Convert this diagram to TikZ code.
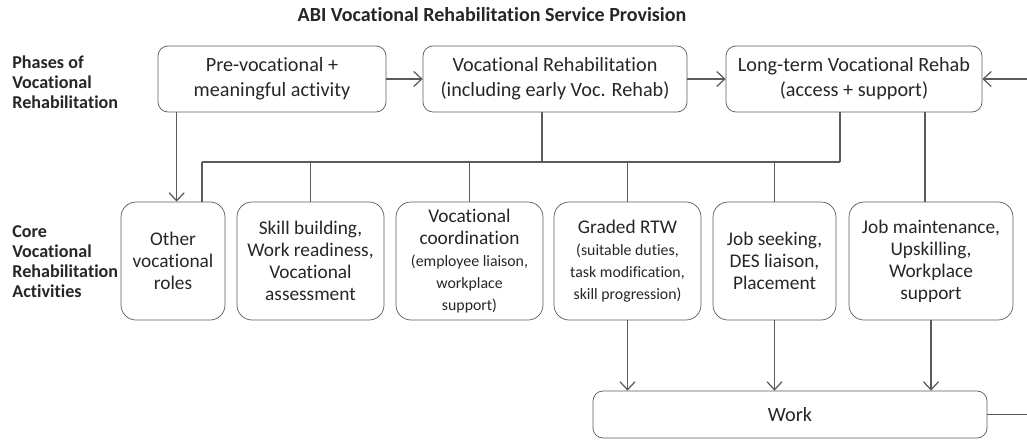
\documentclass[tikz,border=0pt]{standalone}
\usepackage{fontspec}
\setmainfont{Carlito}[Ligatures=NoCommon]
\usetikzlibrary{arrows.meta}
\definecolor{edgegray}{HTML}{5A5A5A}
\definecolor{inkgray}{HTML}{262626}
\begin{document}
\begin{tikzpicture}[
    >={Straight Barb[length=1.6mm, width=3mm]},
    phase/.style={draw=edgegray, rounded corners=0.2cm, align=center, text=inkgray,
      minimum height=1.32cm, inner sep=0pt, font=\fontsize{11.5}{14.2}\selectfont},
    activity/.style={draw=edgegray, rounded corners=0.3cm, align=center, text=inkgray,
      minimum height=2.36cm, inner sep=0pt, font=\fontsize{11}{12.5}\selectfont},
    rowlabel/.style={anchor=west, align=left, text=inkgray, inner sep=0pt,
      font=\bfseries\fontsize{10.3}{11.4}\selectfont},
    small/.style={font=\fontsize{9.5}{10.8}\selectfont},
    link/.style={draw=edgegray, line width=0.7pt}
  ]
  \useasboundingbox (0,0) rectangle (20.54,8.8);
  \node[text=inkgray, font=\bfseries\fontsize{11.4}{13}\selectfont] (title) at (9.84,8.5)
    {ABI Vocational Rehabilitation Service Provision};
  \node[rowlabel] (phaseslabel) at (0.24,7.16) {Phases of\\Vocational\\Rehabilitation};
  \node[rowlabel] (corelabel) at (0.24,3.56) {Core\\Vocational\\Rehabilitation\\Activities};

  \node[phase, minimum width=4.56cm] (pre) at (5.44,7.22) {Pre-vocational +\\meaningful activity};
  \node[phase, minimum width=5.28cm] (voc) at (11.1,7.22) {Vocational Rehabilitation\\(including early Voc. Rehab)};
  \node[phase, minimum width=5.12cm] (long) at (17.08,7.22) {Long-term Vocational Rehab\\(access + support)};

  \node[activity, minimum width=2.08cm] (other) at (3.46,3.58) {Other\\vocational\\roles};
  \node[activity, minimum width=2.94cm] (skill) at (6.21,3.58) {Skill building,\\Work readiness,\\Vocational\\assessment};
  \node[activity, minimum width=2.94cm] (coord) at (9.39,3.58)
    {Vocational\\coordination\\{\small(employee liaison,}\\{\small workplace}\\{\small support)}};
  \node[activity, minimum width=2.94cm] (graded) at (12.55,3.58)
    {Graded RTW\\{\small(suitable duties,}\\{\small task modification,}\\{\small skill progression)}};
  \node[activity, minimum width=2.46cm] (seek) at (15.49,3.58) {Job seeking,\\DES liaison,\\Placement};
  \node[activity, minimum width=3.28cm] (maint) at (18.62,3.58) {Job maintenance,\\Upskilling,\\Workplace\\support};

  \node[phase, minimum width=7.88cm, minimum height=0.94cm] (work) at (15.8,0.51) {Work};

  \coordinate (inR) at (20.54,7.22);
  \coordinate (outR) at (20.54,0.51);
  \coordinate (busL) at (4.04,5.56);
  \coordinate (busR) at (16.8,5.56);

  \begin{scope}[link, ->]
    \draw (pre) to (voc);
    \draw (voc) to (long);
    \draw (inR) to (long);
    \draw ([xshift=0.38cm]pre.south west) to ([xshift=0.38cm]pre.south west |- other.north);
    \draw (graded.south) to (graded.south |- work.north);
    \draw (seek.south) to (seek.south |- work.north);
    \draw (maint.south) to (maint.south |- work.north);
  \end{scope}
  \begin{scope}[link, -]
    \draw (work) to (outR);
    \draw ([xshift=-0.26cm]voc.south) to ([xshift=-0.26cm]voc.south |- busL);
    \draw ([xshift=-0.28cm]long.south) to (busR);
    \draw (busL) to (busR);
    \draw (busL) to (busL |- other.north);
    \draw (skill.north |- busL) to (skill.north);
    \draw (coord.north |- busL) to (coord.north);
    \draw (graded.north |- busL) to (graded.north);
    \draw (seek.north |- busL) to (seek.north);
    \draw ([xshift=1.42cm]long.south) to ([xshift=1.42cm]long.south |- maint.north);
  \end{scope}
\end{tikzpicture}
\end{document}
